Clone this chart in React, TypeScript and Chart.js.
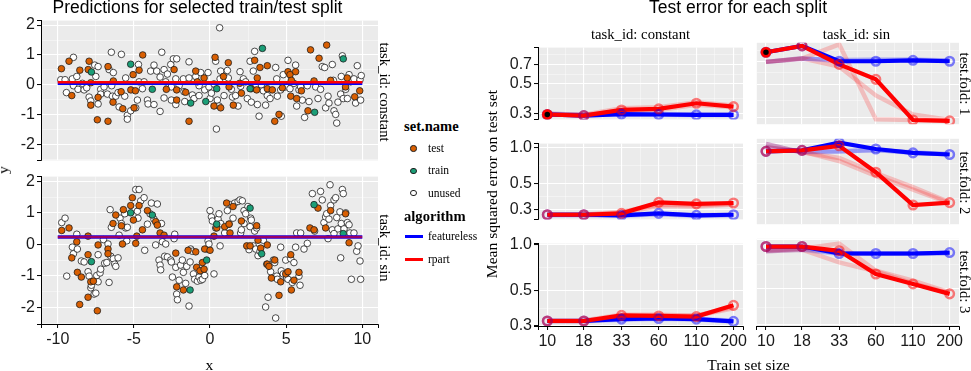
import React, { useEffect, useRef } from 'react';
import { Chart, registerables } from 'chart.js';

Chart.register(...registerables);

const SANS = "'Liberation Sans', Arial, Helvetica, sans-serif";
const SERIF = "'Liberation Serif', 'Times New Roman', Times, serif";

const TEST_COLOR = '#D95F02';
const TRAIN_COLOR = '#1B9E77';
const UNUSED_COLOR = '#FFFFFF';

// ---------------- Left panel: predictions ----------------
const X_TICKS = [-10, -5, 0, 5, 10];
const X_MINOR = [-7.5, -2.5, 2.5, 7.5];
const Y_TICKS = [-2, -1, 0, 1, 2];
const Y_MINOR = [-2.5, -1.5, -0.5, 0.5, 1.5];

const CONST_TRAIN: [number, number][] = [
  [-7.79, 0.43], [-5.21, 0.69], [-3.79, -0.15], [-1.27, -0.61], [-0.28, -0.56],
  [0.44, -0.13], [2.63, -0.13], [3.44, 1.22], [6.87, -0.92], [8.75, 0.87],
];
const CONST_TEST: [number, number][] = [
  [-9.76, 0.54], [-9.26, 0.79], [-9.08, -0.36], [-8.55, 0.49], [-7.94, 0.79], [-8.0, 0.51], [-7.83, 0.07],
  [-7.83, -0.68], [-7.4, -1.17], [-6.7, -1.22], [-6.7, 0.61], [-6.35, 0.13], [-6.37, -0.58], [-5.84, -0.23],
  [-5.73, -0.8], [-5.2, -0.17], [-5.05, 0.34], [-4.99, -0.77], [-4.66, 0.49], [-4.42, 1.0], [-2.87, -0.15],
  [-2.36, 0.51], [-2.19, -0.17], [-2.19, -0.51], [-1.38, -1.22], [-0.94, 0.46], [-0.83, 0.1], [-0.39, 0.23],
  [0.33, 0.92], [0.26, -0.71], [0.7, -0.77], [0.88, 0.28], [1.2, 0.74], [1.25, -0.07], [1.53, -0.68],
  [2.06, -0.28], [2.71, -0.13], [2.93, 0.82], [3.1, 0.23], [3.06, -0.17], [3.28, 0.58], [3.76, 0.64],
  [3.76, -0.13], [4.09, -0.17], [4.25, -1.22], [4.53, -0.99], [4.75, -0.1], [5.12, 0.44], [5.25, 0.34],
  [5.3, -0.38], [5.34, 0.15], [5.62, 0.44], [5.69, -0.46], [6.43, -0.87], [6.6, 1.17], [6.83, 0.13],
  [7.16, 0.89], [7.66, 1.33], [7.92, 0.15], [8.9, -0.07], [9.01, 0.23], [9.83, -0.2], [-7.35, -0.42],
  [-4.9, -0.2], [-1.6, -0.25], [1.95, 0.05], [6.0, -0.2], [9.5, -0.4],
];
const CONST_UNUSED: [number, number][] = [
  [-9.8, 0.17], [-9.52, 0.17], [-9.43, -0.26], [-9.04, 0.2], [-8.97, -0.03], [-8.75, 0.28], [-8.67, -0.15],
  [-8.38, 0.05], [-8.27, -0.17], [-8.1, -0.1], [-8.97, 0.92], [-7.94, -0.41], [-7.83, -0.54], [-7.57, 0.66],
  [-7.35, 0.61], [-7.5, 0.28], [-7.35, -0.64], [-7.18, -0.15], [-7.18, -0.31], [-6.96, -0.07], [-6.74, -0.31],
  [-6.63, 0.51], [-6.48, 1.09], [-6.46, -0.03], [-6.35, 0.41], [-6.41, -0.38], [-6.19, -0.38], [-6.04, -0.26],
  [-5.97, -0.74], [-5.82, 1.02], [-5.6, -0.38], [-5.54, 0.23], [-5.43, -1.02], [-5.43, -1.15], [-5.21, -0.87],
  [-4.88, -0.77], [-4.77, -0.51], [-4.7, 0.68], [-4.66, 0.1], [-4.44, -0.13], [-4.33, 0.1], [-4.11, -0.51],
  [-4.07, -0.64], [-3.9, 0.46], [-3.68, 0.66], [-3.68, -0.66], [-3.5, 0.46], [-3.28, 0.26], [-3.17, 1.09],
  [-3.28, -0.89], [-3.02, -0.44], [-3.02, 0.51], [-2.91, 0.1], [-2.8, 0.36], [-2.58, 0.68], [-2.54, -0.07],
  [-2.54, -0.51], [-2.41, 0.87], [-2.19, 0.87], [-2.25, 0.2], [-2.25, -0.66], [-2.03, -0.03], [-1.75, 0.2],
  [-1.71, -0.23], [-1.66, -0.56], [-1.38, 0.77], [-1.38, 0.23], [-1.16, -0.34], [-1.05, -0.46], [-0.94, 0.28],
  [-0.72, -0.03], [-0.72, -0.36], [-0.61, 0.41], [-0.35, -0.17], [-0.13, 0.41], [-0.07, -0.07], [0, -0.46],
  [0.09, -0.28], [0.26, 0.03], [0.37, 0.79], [0.42, -1.48], [0.48, -0.51], [0.59, -0.71], [0.63, 1.91],
  [0.66, 0.2], [0.7, 0.46], [0.92, -0.36], [1.03, 0.15], [1.14, 0.48], [1.2, 0.23], [1.4, -0.15], [1.47, -0.41],
  [1.68, -0.36], [1.84, -0.71], [1.97, 0.44], [2.01, -0.05], [2.19, 0.2], [2.34, 0.1], [2.45, -0.46],
  [2.63, 0.79], [2.71, -0.58], [2.84, 0.46], [2.93, 1.12], [3.0, -0.07], [3.11, -0.66], [3.22, -1.05],
  [3.37, 0], [3.5, -0.2], [3.65, -0.68], [3.76, -0.36], [3.94, -0.46], [4.31, 0.58], [4.38, 0.2], [4.42, -0.38],
  [4.64, -0.17], [4.68, -1.05], [4.81, 0.34], [4.97, -0.07], [5.12, 0.82], [5.25, -0.13], [5.51, 0.05],
  [5.62, 0.66], [5.69, -0.71], [5.84, -0.17], [5.95, -0.07], [6.06, -0.51], [6.21, -1.09], [6.39, -0.03],
  [6.5, -0.56], [6.94, -0.07], [7.09, -0.46], [7.26, -0.15], [7.37, 0.61], [7.53, 0.58], [7.59, -0.77],
  [7.75, -0.38], [7.81, -0.61], [8.03, 0.68], [8.1, 0.15], [8.14, -0.87], [8.25, -0.99], [8.32, -1.28],
  [8.4, -0.58], [8.58, -0.31], [8.62, 0.28], [8.69, 0.97], [8.75, -0.46], [8.91, -0.15], [9.02, -0.46],
  [9.13, 0.34], [9.23, 0.1], [9.45, 0.2], [9.56, -0.61], [9.67, 0.64], [9.85, 0.17], [9.93, 0.31], [9.89, -0.51],
];

const SIN_TRAIN: [number, number][] = [
  [-7.79, -0.55], [-5.21, 1.0], [-3.79, 0.93], [-1.31, -1.45], [-0.22, -0.5],
  [0.44, 0.64], [2.63, 1.15], [3.39, -0.3], [6.83, 1.26], [8.75, 0.34],
];
const SIN_TEST: [number, number][] = [
  [-9.74, 0.44], [-9.26, 0.52], [-9.08, -0.43], [-8.75, 0.08], [-8.71, -0.89], [-8.45, -1.04], [-8.56, -1.91],
  [-8.01, 0.26], [-8.01, -0.33], [-8.01, -1.68], [-7.83, -1.19], [-7.66, -1.17], [-7.4, -2.11], [-7.35, -0.02],
  [-6.7, -0.15], [-6.7, -0.3], [-6.37, 0.66], [-6.19, 0.93], [-5.82, 0.59], [-5.75, 0.01], [-5.69, 1.1],
  [-5.21, 1.23], [-5.1, 1.48], [-5.03, 0.77], [-4.88, 0.03], [-4.81, 0.26], [-4.66, 1.23], [-4.44, 0.46],
  [-4.11, 1.07], [-3.57, 0.72], [-3.46, 0.61], [-3.28, 0.36], [-3.02, 0.29], [-2.25, -0.28], [-2.19, -1.35],
  [-1.75, -1.45], [-1.44, -0.19], [-0.94, -0.24], [-0.88, -0.73], [-0.66, -0.84], [-0.5, -0.58], [-0.39, -0.79],
  [-0.35, -0.15], [0, -0.19], [0.26, 0.26], [0.44, 0.52], [0.96, 0.56], [1.09, 1.31], [1.25, 0.64],
  [1.31, 0.36], [1.51, 1.2], [2.06, 0.74], [2.41, -0.05], [2.63, -0.05], [3.06, 0.59], [3.15, 0.13],
  [3.33, -0.12], [3.76, -0.02], [3.76, -0.63], [3.87, -0.7], [4.03, -1.07], [4.25, -0.5], [4.53, -1.62],
  [4.64, -1.19], [4.97, -0.94], [5.12, -0.87], [5.3, -0.33], [5.34, -1.45], [5.51, -1.14], [5.84, -0.89],
  [6.56, 0.52], [6.83, 0.46], [7.09, 1.15], [7.59, 0.52], [7.92, 1.07], [8.9, 0.97], [9.13, 0.05],
];
const SIN_UNUSED: [number, number][] = [
  [-9.74, 0.69], [-9.52, 0.83], [-9.41, -1.01], [-9.04, -0.09], [-8.97, -0.3], [-8.75, 0.32], [-8.71, -0.15],
  [-8.45, -0.53], [-8.27, -0.56], [-8.01, -0.87], [-7.94, -1.01], [-7.83, -1.38], [-7.79, -1.3], [-7.61, -1.58],
  [-7.5, -1.55], [-7.44, -0.99], [-7.35, -0.33], [-7.35, -1.19], [-7.22, -0.91], [-7.18, -0.79], [-7.0, 0.15],
  [-6.92, -0.6], [-6.78, -0.58], [-6.7, 0.01], [-6.63, -1.21], [-6.56, 1.1], [-6.52, -0.38], [-6.48, 0.54],
  [-6.35, -0.46], [-6.26, -0.63], [-6.19, -0.7], [-6.04, -0.43], [-5.97, 0.29], [-5.91, 0.83], [-5.82, 0.66],
  [-5.6, 0.97], [-5.54, 0.52], [-5.47, 0.11], [-5.43, 0.54], [-4.88, 1.74], [-4.66, 1.74], [-4.77, 1.05],
  [-4.73, 0.83], [-4.55, 1.38], [-4.33, 1.48], [-4.29, -0.19], [-4.11, 0.64], [-3.94, 0.97], [-3.85, 1.31],
  [-3.68, 0.8], [-3.46, 1.28], [-3.57, -0.02], [-3.35, -0.5], [-3.28, -0.66], [-3.24, -0.81], [-3.19, 0.66],
  [-3.13, 0.08], [-2.98, -0.38], [-2.91, 0.01], [-2.8, -0.4], [-2.58, -0.5], [-2.54, -0.56], [-2.47, -1.04],
  [-2.36, 0.18], [-2.32, 0.32], [-2.25, -0.73], [-2.19, -1.58], [-2.14, -1.76], [-2.03, -1.14], [-1.93, -0.66],
  [-1.82, -0.5], [-1.75, -0.89], [-1.6, -1.24], [-1.53, -0.7], [-1.38, -1.96], [-1.31, -0.56], [-1.27, -0.15],
  [-1.16, -0.22], [-1.09, -0.94], [-1.01, -1.11], [-0.83, -1.17], [-0.72, -1.04], [-0.61, -1.14], [-0.5, -1.11],
  [-0.35, -0.99], [-0.22, -0.15], [-0.13, 0.11], [-0.07, 0.01], [0, 1.07], [0.09, 0.87], [0.15, 0.74],
  [0.26, -0.94], [0.37, 0.52], [0.53, 0.8], [0.59, 0.97], [0.66, -0.05], [0.7, 0.66], [0.96, 0.36],
  [1.14, 1.07], [1.25, 0.64], [1.36, 1.26], [1.51, 0.83], [1.62, 1.31], [1.84, 1.36], [1.97, 1.41],
  [2.01, 0.36], [2.06, 0.46], [2.12, 1.38], [2.23, 0.66], [2.23, 1.07], [2.34, 0.97], [2.49, 1.2],
  [2.56, -0.17], [2.63, 0.56], [2.67, 0.83], [2.71, 0.77], [2.84, -0.05], [2.93, 0.42], [3.0, -0.15],
  [3.06, 0.52], [3.15, -0.36], [3.28, -0.22], [3.5, 0.13], [3.72, -0.63], [3.65, -1.99], [3.81, -1.68],
  [3.98, -0.87], [4.16, -0.5], [4.25, -0.58], [4.31, -2.34], [4.38, -1.01], [4.42, -1.11], [4.64, -0.09],
  [4.68, -0.84], [4.81, -0.94], [4.97, -0.5], [5.03, -1.07], [5.12, -1.11], [5.3, -0.46], [5.4, -1.21],
  [5.51, -0.58], [5.62, -0.09], [5.69, 0.36], [5.84, -1.01], [5.91, -1.3], [5.95, 0.36], [6.17, -0.15],
  [6.39, 0.03], [6.72, 1.61], [6.87, 0.42], [7.26, 1.68], [7.37, 1.41], [7.48, 0.69], [7.59, 0.87],
  [7.66, 0.97], [7.75, 0.18], [7.81, 0.8], [7.88, 1.89], [7.92, 1.23], [8.03, 0.46], [8.14, 1.41],
  [8.25, 1.48], [8.32, 0.85], [8.4, 0.49], [8.53, 1.03], [8.58, -0.43], [8.62, 0.66], [8.69, 1.74],
  [8.75, 1.61], [8.8, 0.49], [8.91, 1.0], [9.02, 0.69], [9.13, 0.62], [9.19, 0.36], [9.28, -1.11],
  [9.45, 0.36], [9.63, -0.22], [9.72, -0.05], [9.85, -0.53], [9.89, -1.11], [8.14, 0.34],
];

const PRED_X = [-10, 10];
const CONST_PRED_FEATURELESS = [0.045, 0.045];
const CONST_PRED_RPART = [0.085, 0.085];
const SIN_PRED_FEATURELESS = [0.23, 0.23];
const SIN_PRED_RPART = [0.23, 0.23];

// ---------------- Right panel: test error ----------------
const TRAIN_SIZES = [10, 18, 33, 60, 110, 200];
const SIZE_LABELS = ['10', '18', '33', '60', '110', '200'];
const SIZE_MINOR = [13.4, 24.4, 44.5, 81.2, 148.3];
const ROW1_Y_TICKS = [0.3, 0.5, 0.7];
const ROW1_Y_MINOR = [0.387, 0.592, 0.828];
const ROW23_Y_TICKS = [0.3, 0.5, 1.0];
const ROW23_Y_MINOR = [0.387, 0.707];

// constant task
const C1_FEATURELESS = [0.296, 0.29, 0.298, 0.296, 0.294, 0.294];
const C1_RPART = [0.296, 0.29, 0.32, 0.326, 0.359, 0.339];
const C1_FEATURELESS_OTHER = [[0.3, 0.295, 0.3, 0.298, 0.296, 0.295], [0.298, 0.292, 0.297, 0.295, 0.293, 0.293]];
const C1_RPART_OTHER = [[0.3, 0.295, 0.33, 0.335, 0.365, 0.345], [0.298, 0.292, 0.315, 0.32, 0.35, 0.335]];
const C2_FEATURELESS = [0.27, 0.27, 0.267, 0.2775, 0.267, 0.27];
const C2_RPART = [0.27, 0.27, 0.2775, 0.344, 0.334, 0.34];
const C2_FEATURELESS_OTHER = [[0.272, 0.272, 0.27, 0.275, 0.268, 0.27], [0.268, 0.268, 0.265, 0.272, 0.265, 0.268]];
const C2_RPART_OTHER = [[0.272, 0.272, 0.285, 0.33, 0.325, 0.335], [0.27, 0.27, 0.28, 0.32, 0.318, 0.33]];
const C3_FEATURELESS = [0.319, 0.319, 0.328, 0.331, 0.328, 0.317];
const C3_RPART = [0.319, 0.319, 0.347, 0.344, 0.3405, 0.403];
const C3_FEATURELESS_OTHER = [[0.322, 0.322, 0.33, 0.334, 0.33, 0.32], [0.318, 0.318, 0.325, 0.33, 0.326, 0.316]];
const C3_RPART_OTHER = [[0.322, 0.322, 0.35, 0.35, 0.345, 0.395], [0.318, 0.318, 0.34, 0.345, 0.345, 0.385]];
// sin task
const S1_FEATURELESS = [0.81, 0.892, 0.707, 0.707, 0.717, 0.707];
const S1_RPART = [0.81, 0.892, 0.674, 0.537, 0.29, 0.286];
const S1_FEATURELESS_OTHER = [[0.7, 0.735, 0.72, 0.725, 0.725, 0.715], [0.7, 0.74, 0.71, 0.715, 0.72, 0.712]];
const S1_RPART_OTHER = [[0.7, 0.735, 0.914, 0.293, 0.29, 0.286], [0.7, 0.74, 0.652, 0.421, 0.315, 0.29]];
const S2_FEATURELESS = [0.875, 0.89, 1.018, 0.911, 0.852, 0.828];
const S2_RPART = [0.875, 0.89, 0.963, 0.609, 0.344, 0.359];
const S2_FEATURELESS_OTHER = [[0.995, 0.86, 0.87, 0.9, 0.85, 0.83], [0.94, 0.87, 0.88, 0.89, 0.86, 0.83]];
const S2_RPART_OTHER = [[0.995, 0.86, 0.78, 0.6, 0.47, 0.36], [0.94, 0.87, 0.74, 0.57, 0.45, 0.355]];
const S3_FEATURELESS = [0.909, 0.909, 0.824, 0.824, 0.824, 0.835];
const S3_RPART = [0.909, 0.909, 0.856, 0.617, 0.536, 0.466];
const S3_FEATURELESS_OTHER = [[0.86, 0.88, 0.83, 0.82, 0.82, 0.83], [0.85, 0.87, 0.82, 0.825, 0.82, 0.83]];
const S3_RPART_OTHER = [[0.86, 0.88, 0.948, 0.646, 0.561, 0.476], [0.85, 0.87, 0.727, 0.64, 0.54, 0.47]];
const SELECTED_CONST = 0.296;
const SELECTED_SIN = 0.81;

// ---------------- helpers ----------------
type AxisSpec = {
  type: 'linear' | 'logarithmic';
  min: number;
  max: number;
  majors: number[];
  minors: number[];
  label: (v: number) => string;
  show: boolean;
  size: number;
};

function makeAxis(spec: AxisSpec, horizontal: boolean) {
  const near = (a: number, b: number) => Math.abs(a - b) < 1e-7;
  const isMajor = (v: any) => typeof v === 'number' && spec.majors.some((m) => near(m, v));
  const isEdge = (v: any) => typeof v === 'number' && (near(v, spec.min) || near(v, spec.max));
  const values = [spec.min, ...spec.minors, ...spec.majors, spec.max].sort((a, b) => a - b);
  const size = spec.show ? spec.size : 0;
  return {
    type: spec.type,
    position: horizontal ? 'bottom' : 'left',
    min: spec.min,
    max: spec.max,
    afterBuildTicks: (scale: any) => {
      scale.ticks = values.map((v) => ({ value: v }));
    },
    afterFit: (scale: any) => {
      if (horizontal) scale.height = size;
      else scale.width = size;
    },
    border: { display: spec.show, color: '#000000', width: 1 },
    grid: {
      drawOnChartArea: true,
      drawTicks: spec.show,
      tickLength: 4,
      tickWidth: 1,
      color: (ctx: any) => {
        const v = ctx.tick ? ctx.tick.value : undefined;
        if (isEdge(v)) return 'rgba(0,0,0,0)';
        return isMajor(v) ? '#FFFFFF' : 'rgba(255,255,255,0.7)';
      },
      lineWidth: (ctx: any) => (isMajor(ctx.tick ? ctx.tick.value : undefined) ? 1.1 : 0.6),
      tickColor: (ctx: any) => {
        const v = ctx.tick ? ctx.tick.value : undefined;
        return isMajor(v) || isEdge(v) ? '#000000' : 'rgba(0,0,0,0)';
      },
    },
    ticks: {
      display: spec.show,
      autoSkip: false,
      maxRotation: 0,
      minRotation: 0,
      padding: 2,
      color: '#1A1A1A',
      font: { family: SANS, size: 16 },
      callback: (v: any) => (isMajor(Number(v)) ? spec.label(Number(v)) : ''),
    },
  };
}

const panelBg = {
  id: 'panelBg',
  beforeDraw(chart: any) {
    const { ctx, chartArea: a } = chart;
    ctx.save();
    ctx.fillStyle = '#EBEBEB';
    ctx.fillRect(a.left, a.top, a.right - a.left, a.bottom - a.top);
    ctx.restore();
  },
};

type Geo = {
  area: [number, number, number, number]; // x0, y0, x1, y1
  showX: boolean;
  showY: boolean;
  xSize: number;
  ySize: number;
  padT: number;
  padR: number;
  padB: number;
  padL: number;
};

function geometry(g: Geo) {
  const [x0, y0, x1, y1] = g.area;
  const left = x0 - (g.showY ? g.ySize : g.padL);
  const top = y0 - g.padT;
  const width = x1 + g.padR - left;
  const height = y1 + (g.showX ? g.xSize : g.padB) - top;
  const padding = { top: g.padT, right: g.padR, bottom: g.showX ? 0 : g.padB, left: g.showY ? 0 : g.padL };
  return { left, top, width, height, padding };
}

function ChartBox(props: { g: Geo; x: AxisSpec; y: AxisSpec; datasets: any[] }) {
  const ref = useRef<HTMLCanvasElement | null>(null);
  const geo = geometry(props.g);
  useEffect(() => {
    if (!ref.current) return;
    const chart = new Chart(ref.current, {
      type: 'scatter',
      data: { datasets: props.datasets },
      options: {
        animation: false,
        responsive: false,
        devicePixelRatio: 1,
        events: [],
        layout: { padding: geo.padding },
        plugins: { legend: { display: false }, tooltip: { enabled: false } },
        scales: { x: makeAxis(props.x, true) as any, y: makeAxis(props.y, false) as any },
      },
      plugins: [panelBg],
    } as any);
    return () => chart.destroy();
  }, []);
  return (
    <canvas
      ref={ref}
      width={geo.width}
      height={geo.height}
      style={{ position: 'absolute', left: geo.left, top: geo.top, width: geo.width, height: geo.height }}
    />
  );
}

const toPts = (pairs: [number, number][]) => pairs.map(([x, y]) => ({ x, y }));
const linePts = (ys: number[]) => PRED_X.map((x, i) => ({ x, y: ys[i] }));

function scatterSet(pairs: [number, number][], color: string, order: number) {
  return {
    data: toPts(pairs),
    showLine: false,
    pointRadius: 3.3,
    pointBackgroundColor: color,
    pointBorderColor: '#1E1E1E',
    pointBorderWidth: 0.8,
    order,
  };
}

function predDatasets(task: 'const' | 'sin') {
  const sets: any[] = [
    scatterSet(task === 'const' ? CONST_UNUSED : SIN_UNUSED, UNUSED_COLOR, 50),
    scatterSet(task === 'const' ? CONST_TEST : SIN_TEST, TEST_COLOR, 49),
    scatterSet(task === 'const' ? CONST_TRAIN : SIN_TRAIN, TRAIN_COLOR, 48),
  ];
  sets.push({
    data: linePts(task === 'const' ? CONST_PRED_FEATURELESS : SIN_PRED_FEATURELESS),
    showLine: true,
    borderColor: '#0000FF',
    borderWidth: task === 'const' ? 3 : 3.6,
    pointRadius: 0,
    order: 2,
  });
  sets.push({
    data: linePts(task === 'const' ? CONST_PRED_RPART : SIN_PRED_RPART),
    showLine: true,
    borderColor: task === 'const' ? '#FF0000' : 'rgba(255,0,0,0.6)',
    borderWidth: task === 'const' ? 2.6 : 2.4,
    pointRadius: 0,
    order: 1,
  });
  return sets;
}

const sizePts = (ys: number[]) => TRAIN_SIZES.map((x, i) => ({ x, y: ys[i] }));

function errDatasets(f: number[], r: number[], fo: number[][], ro: number[][], selected?: number) {
  const sets: any[] = [];
  let order = 100;
  fo.forEach((a) =>
    sets.push({ data: sizePts(a), showLine: true, borderColor: 'rgba(0,0,255,0.2)', borderWidth: 4.5, pointRadius: 0, order: order-- })
  );
  ro.forEach((a) =>
    sets.push({ data: sizePts(a), showLine: true, borderColor: 'rgba(255,0,0,0.2)', borderWidth: 4.5, pointRadius: 0, order: order-- })
  );
  sets.push({ data: sizePts(f), showLine: true, borderColor: '#0000FF', borderWidth: 4.2, pointRadius: 0, order: 10 });
  sets.push({ data: sizePts(r), showLine: true, borderColor: '#FF0000', borderWidth: 4.2, pointRadius: 0, order: 9 });
  sets.push({
    data: sizePts(f), showLine: false, pointRadius: 4.3, pointBackgroundColor: 'rgba(0,0,0,0)',
    pointBorderColor: 'rgba(0,0,255,0.5)', pointBorderWidth: 2.5, order: 8,
  });
  sets.push({
    data: sizePts(r), showLine: false, pointRadius: 4.3, pointBackgroundColor: 'rgba(0,0,0,0)',
    pointBorderColor: 'rgba(255,0,0,0.5)', pointBorderWidth: 2.5, order: 7,
  });
  if (selected !== undefined) {
    sets.push({
      data: [{ x: TRAIN_SIZES[0], y: selected }], showLine: false, pointRadius: 4,
      pointBackgroundColor: '#000000', pointBorderColor: '#FF0000', pointBorderWidth: 2.5, order: 1,
    });
  }
  return sets;
}

// ---------------- layout constants ----------------
const LEFT_X = [41, 378];
const LEFT_ROWS = [[15, 168], [171, 324]];
const RIGHT_COLS = [[538, 743], [754, 959]];
const RIGHT_ROWS = [[42, 127], [138, 227], [238, 326]];

const leftX = (show: boolean): AxisSpec => ({
  type: 'linear', min: -11.1, max: 11.03, majors: X_TICKS, minors: X_MINOR,
  label: (v) => String(v), show, size: 30,
});
const leftY: AxisSpec = {
  type: 'linear', min: -2.53, max: 2.15, majors: Y_TICKS, minors: Y_MINOR,
  label: (v) => String(v), show: true, size: 41,
};
const rightX = (show: boolean): AxisSpec => ({
  type: 'logarithmic', min: 8.61, max: 233, majors: TRAIN_SIZES, minors: SIZE_MINOR,
  label: (v) => SIZE_LABELS[TRAIN_SIZES.findIndex((s) => Math.abs(s - v) < 1e-7)] || '', show, size: 28,
});
const ROW_RANGES = [[0.272, 0.935], [0.2465, 1.088], [0.296, 1.014]];
const rightY = (row: number, show: boolean): AxisSpec => ({
  type: 'logarithmic', min: ROW_RANGES[row][0], max: ROW_RANGES[row][1],
  majors: row === 0 ? ROW1_Y_TICKS : ROW23_Y_TICKS, minors: row === 0 ? ROW1_Y_MINOR : ROW23_Y_MINOR,
  label: (v) => v.toFixed(1), show, size: 40,
});

function Text(props: { x: number; y: number; text: string; size: number; family: string; bold?: boolean; rotate?: number; align?: 'center' | 'left' }) {
  const { x, y, text, size, family, bold, rotate, align } = props;
  const style: any = {
    position: 'absolute', whiteSpace: 'nowrap', fontSize: size, fontFamily: family, lineHeight: 1,
    fontWeight: bold ? 'bold' : 'normal', color: '#000000',
  };
  if (rotate) {
    style.left = x; style.top = y; style.transform = `translate(-50%, -50%) rotate(${rotate}deg)`;
  } else if (align === 'left') {
    style.left = x; style.top = y;
  } else {
    style.left = x; style.top = y; style.transform = 'translateX(-50%)';
  }
  return <div style={style}>{text}</div>;
}

export default function App() {
  const rightFacets: any[] = [];
  const errData = [
    [errDatasets(C1_FEATURELESS, C1_RPART, C1_FEATURELESS_OTHER, C1_RPART_OTHER, SELECTED_CONST),
     errDatasets(S1_FEATURELESS, S1_RPART, S1_FEATURELESS_OTHER, S1_RPART_OTHER, SELECTED_SIN)],
    [errDatasets(C2_FEATURELESS, C2_RPART, C2_FEATURELESS_OTHER, C2_RPART_OTHER),
     errDatasets(S2_FEATURELESS, S2_RPART, S2_FEATURELESS_OTHER, S2_RPART_OTHER)],
    [errDatasets(C3_FEATURELESS, C3_RPART, C3_FEATURELESS_OTHER, C3_RPART_OTHER),
     errDatasets(S3_FEATURELESS, S3_RPART, S3_FEATURELESS_OTHER, S3_RPART_OTHER)],
  ];
  for (let r = 0; r < 3; r++) {
    for (let c = 0; c < 2; c++) {
      const showX = r === 2;
      const showY = c === 0;
      rightFacets.push(
        <ChartBox
          key={`r${r}c${c}`}
          g={{
            area: [RIGHT_COLS[c][0], RIGHT_ROWS[r][0], RIGHT_COLS[c][1], RIGHT_ROWS[r][1]],
            showX, showY, xSize: 28, ySize: 40, padT: 6, padR: 8, padB: 4, padL: 4,
          }}
          x={rightX(showX)}
          y={rightY(r, showY)}
          datasets={errData[r][c]}
        />
      );
    }
  }

  const legendDot = (cy: number, color: string) => (
    <div style={{
      position: 'absolute', left: 413.5 - 3.2, top: cy - 3.2, width: 6.4, height: 6.4, boxSizing: 'border-box',
      borderRadius: '50%', border: '0.9px solid #1E1E1E', background: color,
    }} />
  );
  const legendLine = (cy: number, color: string) => (
    <div style={{ position: 'absolute', left: 405, top: cy - 1.5, width: 18, height: 3, background: color }} />
  );

  return (
    <div style={{ position: 'fixed', left: 0, top: 0, width: 971, height: 371, background: '#FFFFFF', overflow: 'hidden' }}>
      {/* Left panel */}
      <ChartBox
        g={{ area: [LEFT_X[0], LEFT_ROWS[0][0], LEFT_X[1], LEFT_ROWS[0][1]], showX: false, showY: true, xSize: 30, ySize: 41, padT: 6, padR: 8, padB: 4, padL: 0 }}
        x={leftX(false)}
        y={leftY}
        datasets={predDatasets('const')}
      />
      <ChartBox
        g={{ area: [LEFT_X[0], LEFT_ROWS[1][0], LEFT_X[1], LEFT_ROWS[1][1]], showX: true, showY: true, xSize: 30, ySize: 41, padT: 6, padR: 8, padB: 4, padL: 0 }}
        x={leftX(true)}
        y={leftY}
        datasets={predDatasets('sin')}
      />
      {rightFacets}

      <Text x={197.5} y={-1.5} text="Predictions for selected train/test split" size={17.5} family={SANS} />
      <Text x={738} y={-1.5} text="Test error for each split" size={17.5} family={SANS} />

      <Text x={384.5} y={92} text="task_id: constant" size={14.7} family={SERIF} rotate={90} />
      <Text x={384.5} y={248} text="task_id: sin" size={14.7} family={SERIF} rotate={90} />
      <Text x={3} y={170} text="y" size={15.6} family={SERIF} rotate={-90} />
      <Text x={209.5} y={357} text="x" size={15.6} family={SERIF} />

      <Text x={640.5} y={27} text="task_id: constant" size={14.7} family={SERIF} />
      <Text x={856.5} y={27} text="task_id: sin" size={14.7} family={SERIF} />
      <Text x={964.6} y={84} text="test.fold: 1" size={14.7} family={SERIF} rotate={90} />
      <Text x={964.6} y={182.5} text="test.fold: 2" size={14.7} family={SERIF} rotate={90} />
      <Text x={964.6} y={282} text="test.fold: 3" size={14.7} family={SERIF} rotate={90} />
      <Text x={492.3} y={183.5} text="Mean squared error on test set" size={15.6} family={SERIF} rotate={-90} />
      <Text x={748.5} y={357} text="Train set size" size={15.6} family={SERIF} />

      {/* Legend */}
      <Text x={404} y={119} text="set.name" size={14.6} family={SERIF} bold align="left" />
      {legendDot(148.5, TEST_COLOR)}
      <Text x={428} y={143} text="test" size={11.5} family={SERIF} align="left" />
      {legendDot(170.7, TRAIN_COLOR)}
      <Text x={428} y={165} text="train" size={11.5} family={SERIF} align="left" />
      {legendDot(193, UNUSED_COLOR)}
      <Text x={428} y={187.5} text="unused" size={11.5} family={SERIF} align="left" />
      <Text x={404} y={208.5} text="algorithm" size={14.6} family={SERIF} bold align="left" />
      {legendLine(236.7, '#0000FF')}
      <Text x={428} y={231} text="featureless" size={11.5} family={SERIF} align="left" />
      {legendLine(259, '#FF0000')}
      <Text x={428} y={253.5} text="rpart" size={11.5} family={SERIF} align="left" />
    </div>
  );
}
